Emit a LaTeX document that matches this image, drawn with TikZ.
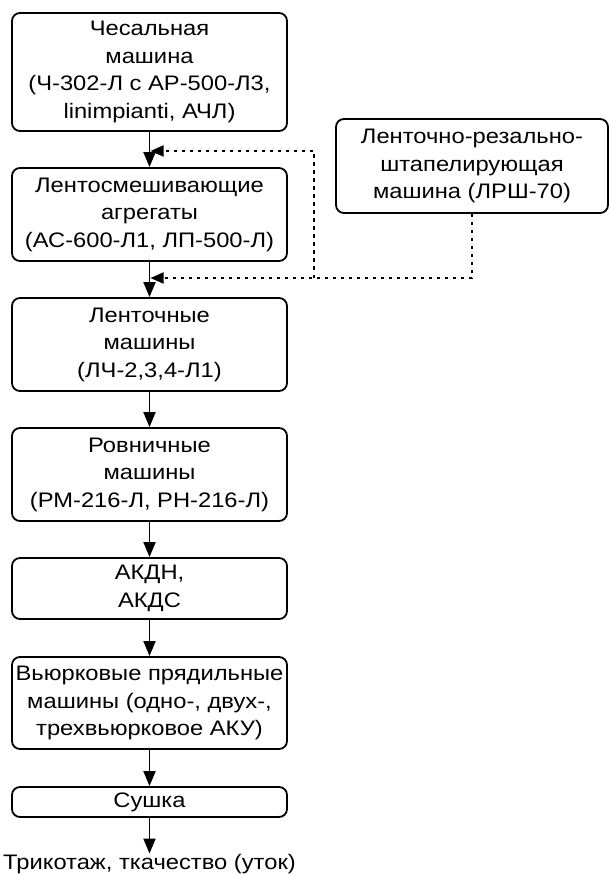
\documentclass[tikz,border=0pt]{standalone}
\usepackage{fontspec}
\setmainfont{Liberation Sans}[FakeStretch=1.13]
\usetikzlibrary{arrows.meta}
\def\arr{\draw[line width=1.8pt,-{Triangle[length=15pt,width=12pt]}]}
\def\dsh{\draw[line width=1.8pt,dash pattern=on 3.5pt off 4.5pt,-{Triangle[length=13pt,width=11pt]}]}

\begin{document}
\begin{tikzpicture}[x=1pt,y=-1pt,
    blok/.style={draw,line width=1.8pt,rounded corners=8pt,minimum width=275pt,
      align=center,inner sep=0pt,font=\fontsize{21}{27.5}\selectfont}]
  \useasboundingbox (0,0) rectangle (609,874);
  \node[blok,minimum height=118pt] (ches) at (149.5,72)
    {Чесальная\\машина\\(Ч-302-Л с АР-500-Л3,\\linimpianti, АЧЛ)};
  \node[blok,minimum height=93pt] (smes) at (149.5,214.5)
    {Лентосмешивающие\\агрегаты\\(АС-600-Л1, ЛП-500-Л)};
  \node[blok,minimum height=93pt] (lent) at (149.5,344.5)
    {Ленточные\\машины\\(ЛЧ-2,3,4-Л1)};
  \node[blok,minimum height=93pt] (rovn) at (149.5,474.5)
    {Ровничные\\машины\\(РМ-216-Л, РН-216-Л)};
  \node[blok,minimum height=61pt] (akd) at (149.5,588.5)
    {АКДН,\\АКДС};
  \node[blok,minimum height=92pt] (vyur) at (149.5,703)
    {Вьюрковые прядильные\\машины (одно-, двух-,\\трехвьюрковое АКУ)};
  \node[blok,minimum height=30pt] (sush) at (149.5,802) {Сушка};
  \node[anchor=base,inner sep=0pt,font=\fontsize{21}{27}\selectfont] (vyh) at (149.5,869)
    {Трикотаж, ткачество (уток)};
  \node[blok,minimum width=272pt,minimum height=94pt] (lrsh) at (472,166)
    {Ленточно-резально-\\штапелирующая\\машина (ЛРШ-70)};
  \coordinate (v1) at (150.5,151);
  \coordinate (v2) at (150.5,278);
  \coordinate (ug) at (314,278);
  \arr (ches) -- (smes);
  \arr (smes) -- (lent);
  \arr (lent) -- (rovn);
  \arr (rovn) -- (akd);
  \arr (akd) -- (vyur);
  \arr (vyur) -- (sush);
  \arr (sush) -- (vyh);
  \dsh (lrsh.south) |- (v2);
  \dsh (ug) |- (v1);
\end{tikzpicture}
\end{document}
